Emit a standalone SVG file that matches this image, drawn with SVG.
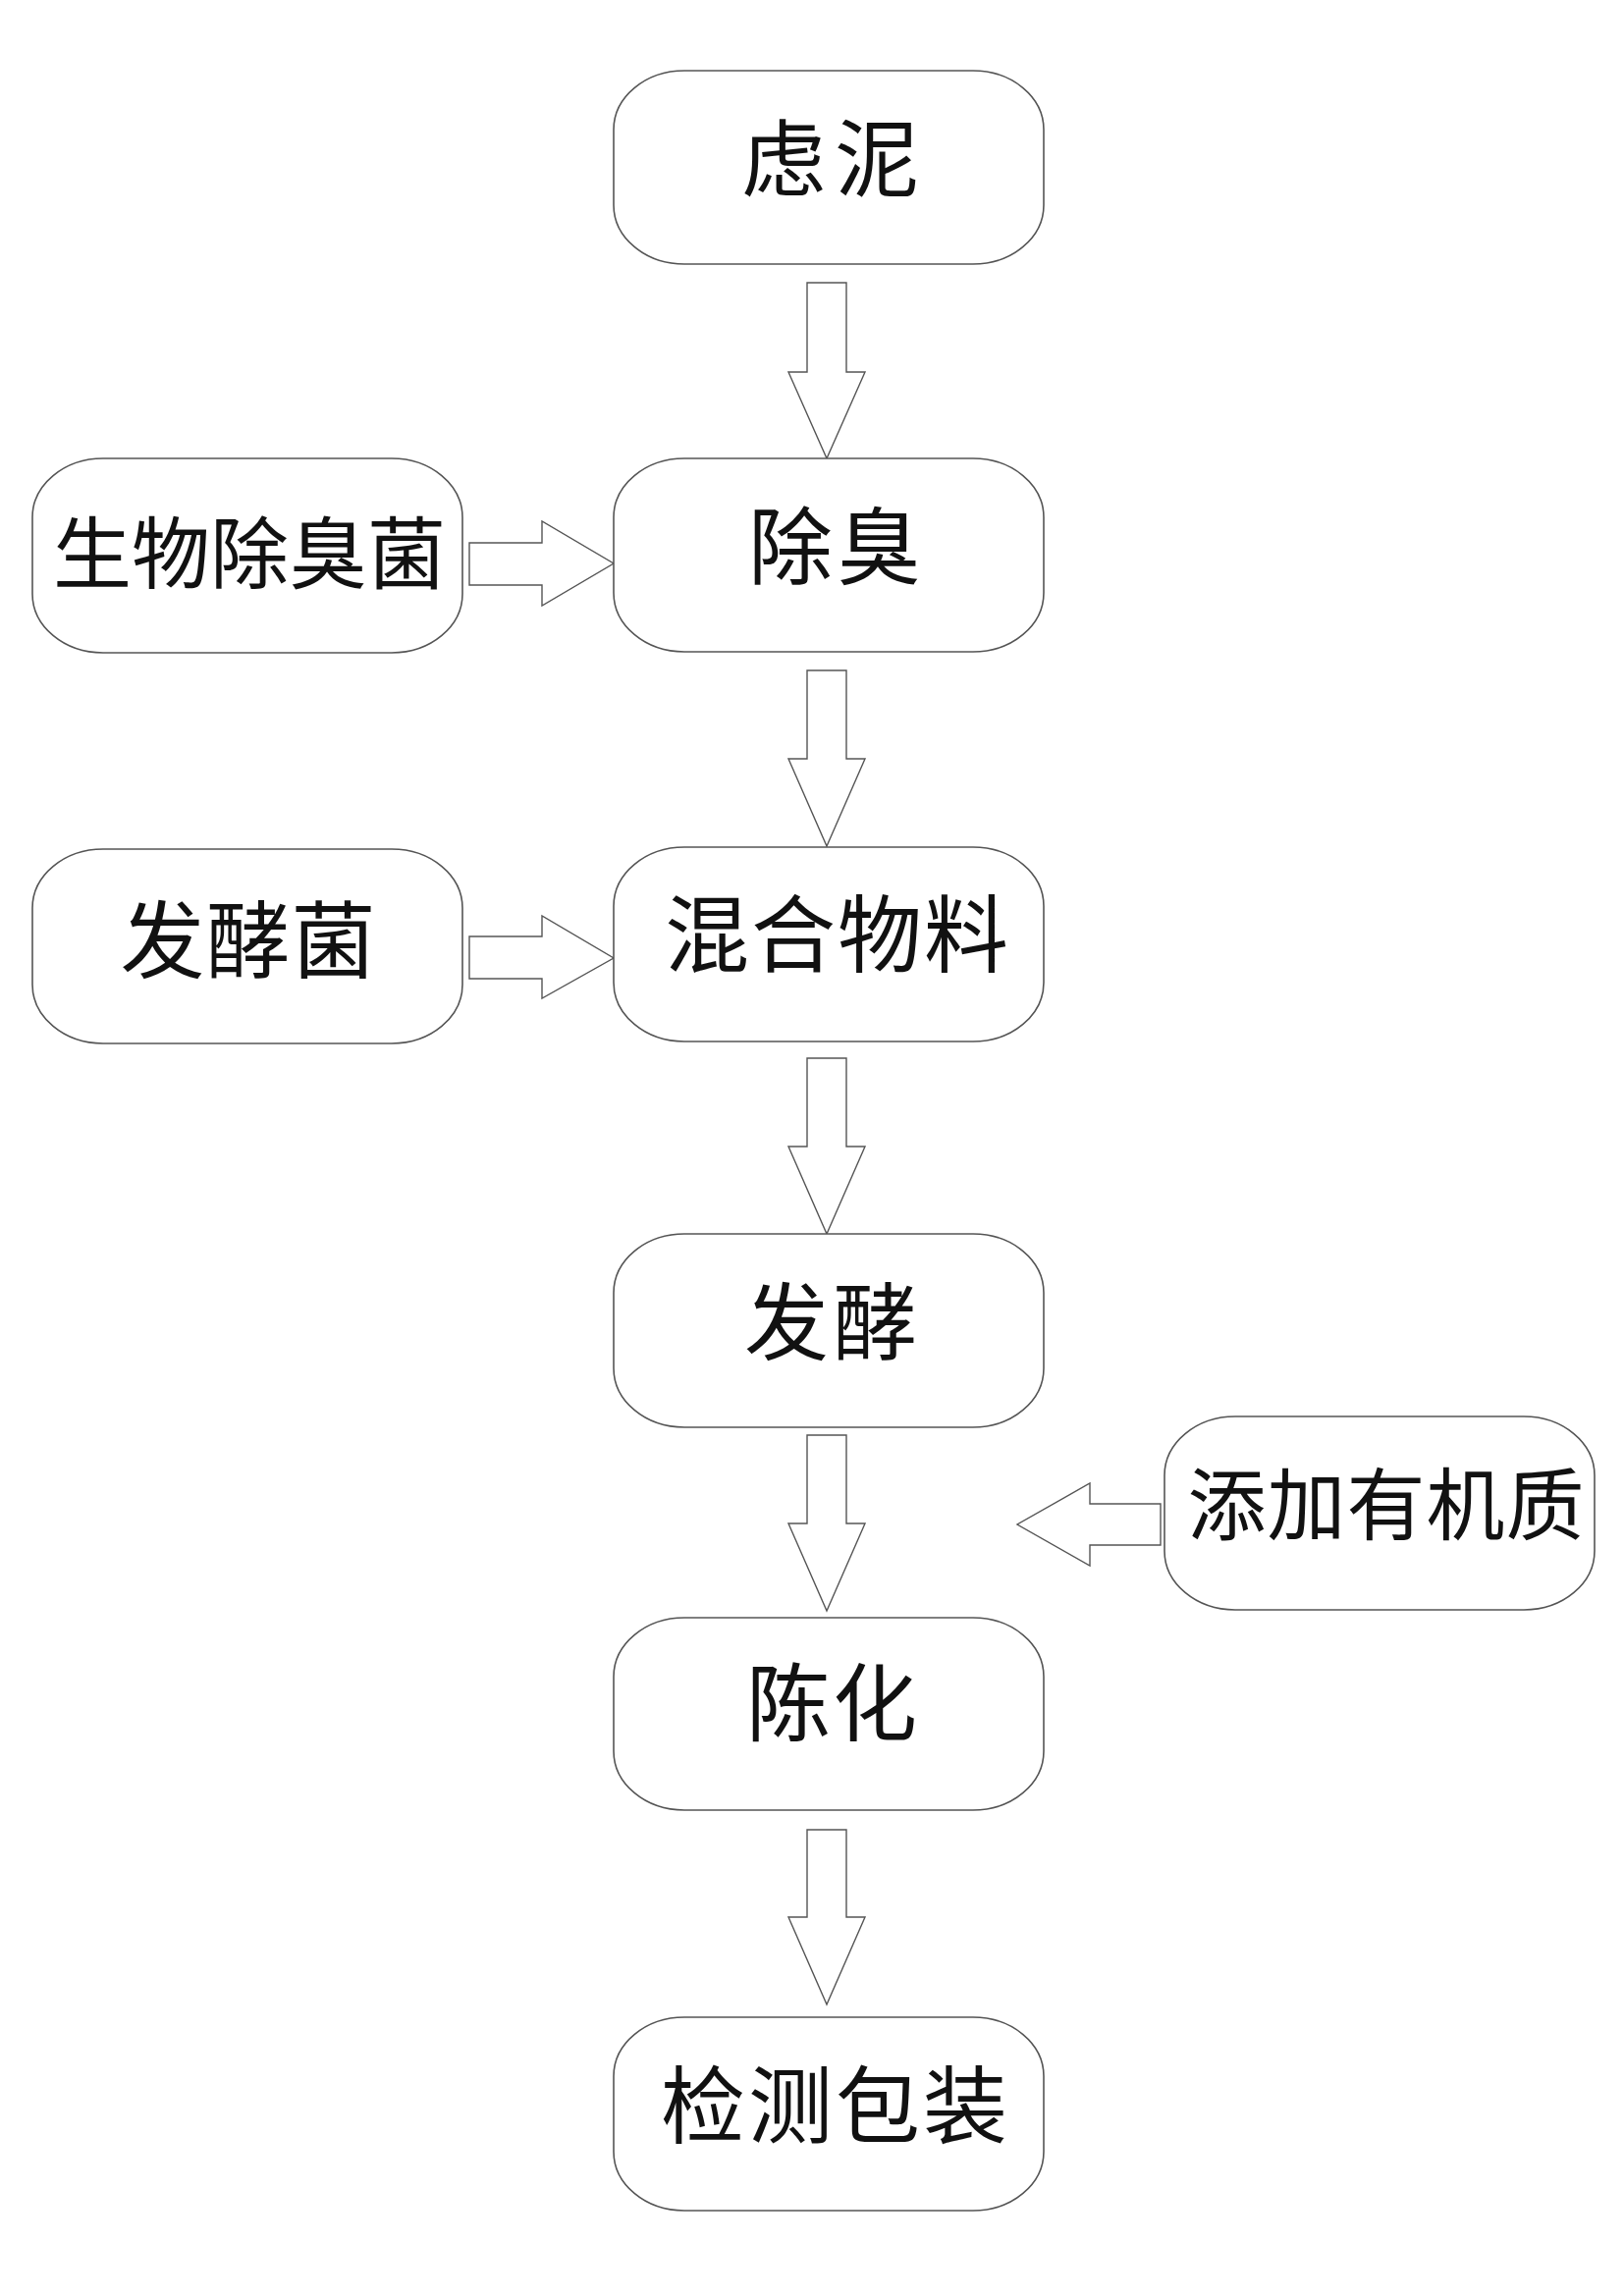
<svg xmlns="http://www.w3.org/2000/svg" width="1654" height="2339" viewBox="0 0 1654 2339">
<style>
.box{fill:#fff;stroke:#555;stroke-width:1.6}
.arr{fill:#fff;stroke:#555;stroke-width:1.4;stroke-linejoin:miter}
text{font-family:"Liberation Serif","Noto Sans CJK SC",serif;font-size:86px;fill:#111;text-anchor:middle;dominant-baseline:central}
.sm{font-size:80px}
</style>
<rect width="1654" height="2339" fill="#fff"/>
<g id="connectors">
<polygon class="arr" points="822,288 862,288 862,379 881,379 842,467 803,379 822,379"/>
<polygon class="arr" points="822,683 862,683 862,773 881,773 842,862 803,773 822,773"/>
<polygon class="arr" points="822,1078 862,1078 862,1168 881,1168 842,1257 803,1168 822,1168"/>
<polygon class="arr" points="822,1462 862,1462 862,1552 881,1552 842,1641 803,1552 822,1552"/>
<polygon class="arr" points="822,1864 862,1864 862,1953 881,1953 842,2042 803,1953 822,1953"/>
<polygon class="arr" points="478,553 552,553 552,531 625,574 552,617 552,596 478,596"/>
<polygon class="arr" points="478,954 552,954 552,933 625,976 552,1017 552,997 478,997"/>
<polygon class="arr" points="1182,1532 1110,1532 1110,1511 1036,1553 1110,1595 1110,1574 1182,1574"/>
</g>
<g id="n1"><rect class="box" x="625" y="72" width="438" height="197" rx="72" ry="60"/><text x="850" y="165" letter-spacing="9">虑泥</text></g>
<g id="n2"><rect class="box" x="625" y="467" width="438" height="197" rx="72" ry="60"/><text x="852" y="560" letter-spacing="4">除臭</text></g>
<g id="n3"><rect class="box" x="33" y="467" width="438" height="198" rx="72" ry="60"/><text class="sm" x="254" y="566">生物除臭菌</text></g>
<g id="n4"><rect class="box" x="625" y="863" width="438" height="198" rx="72" ry="60"/><text x="853" y="955" letter-spacing="2">混合物料</text></g>
<g id="n5"><rect class="box" x="33" y="865" width="438" height="198" rx="72" ry="60"/><text x="253" y="961" letter-spacing="1">发酵菌</text></g>
<g id="n6"><rect class="box" x="625" y="1257" width="438" height="197" rx="72" ry="60"/><text x="848" y="1350" letter-spacing="4">发酵</text></g>
<g id="n7"><rect class="box" x="1186" y="1443" width="438" height="197" rx="72" ry="60"/><text class="sm" x="1412" y="1535" letter-spacing="1">添加有机质</text></g>
<g id="n8"><rect class="box" x="625" y="1648" width="438" height="196" rx="72" ry="60"/><text x="848" y="1738" letter-spacing="2">陈化</text></g>
<g id="n9"><rect class="box" x="625" y="2055" width="438" height="197" rx="72" ry="60"/><text x="851" y="2148" letter-spacing="3">检测包装</text></g>
</svg>
